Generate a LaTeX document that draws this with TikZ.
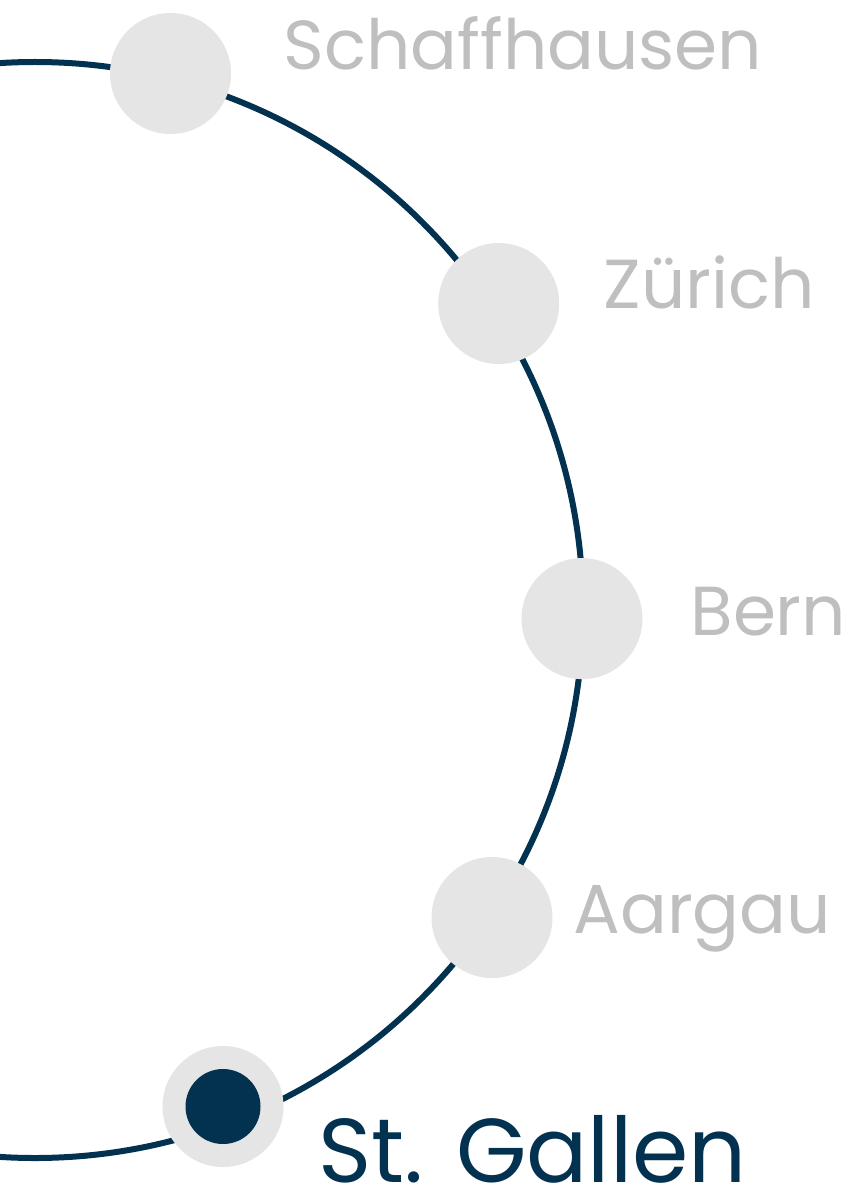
\documentclass[tikz,border=0pt]{standalone}
\usepackage{fontspec}
\setmainfont{Poppins}

\definecolor{navy}{RGB}{3,49,80}
\definecolor{disc}{RGB}{229,229,229}
\definecolor{mute}{RGB}{191,191,191}

\tikzset{
canton/.style={circle, fill=disc, inner sep=0pt, minimum size=121*0.75pt},
current/.style={circle, fill=navy, inner sep=0pt, minimum size=75*0.75pt},
lbl/.style={anchor=base west, inner sep=0pt, text=mute, font=\fontsize{52}{58}\selectfont},
lblcur/.style={anchor=base west, inner sep=0pt, text=navy, font=\fontsize{68}{74}\selectfont}}
\tikzset{every picture/.style={line width=0.75pt}}

\begin{document}
\begin{tikzpicture}[x=0.75pt,y=0.75pt,yscale=-1,xscale=1]

\useasboundingbox (0,0) rectangle (858,1191);
\clip (0,0) rectangle (858,1191);

% COORDINATES

\coordinate (centre) at (35,610);
\def\radius{548}

% RING

\draw [navy, line width=4.5pt] (centre) circle[radius=\radius];

% CANTONS

\node [canton] (schaffhausen) at (170.5,73.5) {};
\node [canton] (zurich) at (498.7,303.5) {};
\node [canton] (bern) at (582,618.6) {};
\node [canton] (aargau) at (492,917.5) {};
\node [canton] (stgallen) at (223,1106.5) {};
\node [current] (stgallendot) at (stgallen) {};

% LABELS

\path (schaffhausen)+(112.5,-3.5) node [lbl] (schaffhausenlbl) {Schaffhausen};
\path (zurich)+(104.3,4.5) node [lbl] (zurichlbl) {Zürich};
\path (bern)+(108,16.4) node [lbl] (bernlbl) {Bern};
\path (aargau)+(81,15.5) node [lbl] (aargaulbl) {Aargau};
\path (stgallen)+(95,76) node [lblcur] (stgallenlbl) {St. Gallen};

\end{tikzpicture}
\end{document}
